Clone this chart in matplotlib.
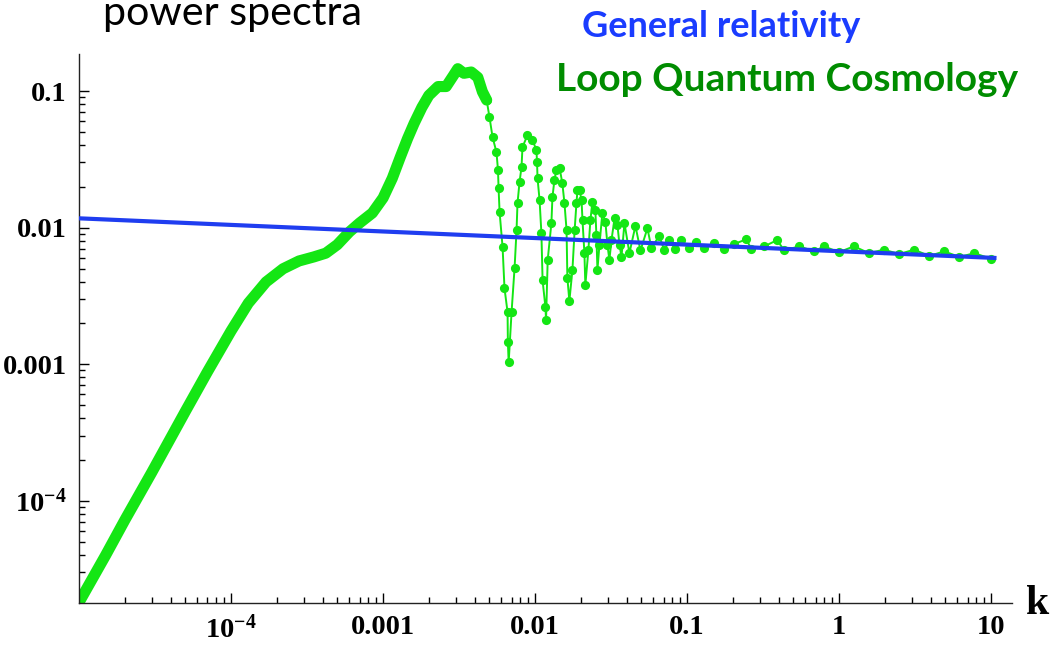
import matplotlib
matplotlib.use("Agg")
import matplotlib.pyplot as plt
from matplotlib.ticker import LogLocator, NullFormatter

# General relativity spectrum (straight line in log-log)
k_gr = [1e-5, 10.5]
p_gr = [0.0117, 0.0060]

# LQC spectrum, dense part (reads as a thick line)
k_lqc_smooth = [1.0e-5, 1.5e-5, 2.0e-5, 3.0e-5, 5.0e-5, 7.0e-5, 1.0e-4, 1.3e-4,
                1.7e-4, 2.2e-4, 2.8e-4, 3.5e-4, 4.2e-4, 5.0e-4, 6.0e-4, 7.0e-4,
                8.5e-4, 1.0e-3, 1.15e-3, 1.3e-3, 1.45e-3, 1.6e-3, 1.8e-3, 2.0e-3,
                2.3e-3, 2.6e-3, 2.9e-3, 3.1e-3, 3.4e-3, 3.8e-3, 4.2e-3, 4.5e-3, 4.8e-3]
p_lqc_smooth = [1.8e-5, 4.0e-5, 7.2e-5, 1.6e-4, 4.5e-4, 8.8e-4, 1.75e-3, 2.8e-3,
                4.0e-3, 5.0e-3, 5.7e-3, 6.1e-3, 6.5e-3, 7.5e-3, 9.3e-3, 1.08e-2,
                1.28e-2, 1.65e-2, 2.3e-2, 3.3e-2, 4.5e-2, 5.8e-2, 7.6e-2, 9.3e-2,
                0.108, 0.108, 0.130, 0.146, 0.135, 0.138, 0.126, 0.099, 0.086]

# LQC spectrum, oscillating part (separate dots)
k_lqc_osc = [0.0048, 0.00501, 0.00525, 0.00557, 0.0057, 0.00575, 0.00584, 0.00611,
             0.00629, 0.00659, 0.00662, 0.0067, 0.0070, 0.00733, 0.00755, 0.00766,
             0.0079, 0.00814, 0.00826, 0.00891, 0.00961, 0.0102, 0.0103, 0.01037,
             0.0107, 0.0110, 0.0112, 0.0117, 0.0118, 0.0121, 0.0128, 0.0130,
             0.0134, 0.0138, 0.0145, 0.0151, 0.0156, 0.0161, 0.0163, 0.0168,
             0.0176, 0.0182, 0.0187, 0.0190, 0.0196, 0.0202, 0.0205, 0.0211,
             0.0214, 0.0224, 0.0231, 0.0238, 0.0249, 0.0253, 0.0257, 0.0265,
             0.0277, 0.0290, 0.0299, 0.0308, 0.0318, 0.0333, 0.0348, 0.0359,
             0.0370, 0.0387, 0.0417, 0.0457, 0.0493, 0.0548, 0.0582, 0.0656,
             0.0708, 0.0764, 0.0836, 0.0916, 0.103, 0.114, 0.129, 0.150,
             0.176, 0.204, 0.245, 0.264, 0.322, 0.391, 0.435, 0.546,
             0.685, 0.795, 0.995, 1.25, 1.57, 1.97, 2.48, 3.11,
             3.91, 4.91, 6.17, 7.75, 10.0]
p_lqc_osc = [0.086, 0.0645, 0.0460, 0.0357, 0.0264, 0.0195, 0.0130, 0.0072,
             0.0036, 0.0024, 0.00145, 0.00103, 0.0024, 0.0051, 0.0096, 0.0151,
             0.0216, 0.0278, 0.0389, 0.0476, 0.0438, 0.0370, 0.0302, 0.0231,
             0.0159, 0.0091, 0.0041, 0.0026, 0.0021, 0.0058, 0.0108, 0.0167,
             0.0223, 0.0264, 0.0272, 0.0212, 0.0151, 0.0096, 0.0043, 0.0029,
             0.0049, 0.0096, 0.0151, 0.0188, 0.0188, 0.0159, 0.0113, 0.0065,
             0.0038, 0.0068, 0.0113, 0.0154, 0.0134, 0.0088, 0.0049, 0.0075,
             0.0128, 0.0110, 0.0075, 0.0058, 0.0081, 0.0117, 0.0104, 0.0075,
             0.0061, 0.0108, 0.0065, 0.0103, 0.0068, 0.0099, 0.0071, 0.0087,
             0.0068, 0.0081, 0.0070, 0.0081, 0.0071, 0.0078, 0.0071, 0.0077,
             0.0070, 0.0076, 0.0082, 0.0070, 0.0073, 0.0081, 0.0068, 0.0073,
             0.0067, 0.0073, 0.0066, 0.0073, 0.0065, 0.0069, 0.0064, 0.0069,
             0.0062, 0.0067, 0.0061, 0.0065, 0.0059]

x_ticks = [1e-4, 1e-3, 1e-2, 1e-1, 1, 10]
x_labels = [r"$10^{-4}$", "0.001", "0.01", "0.1", "1", "10"]
y_ticks = [1e-4, 1e-3, 1e-2, 1e-1]
y_labels = [r"$10^{-4}$", "0.001", "0.01", "0.1"]

plt.rcParams["font.family"] = ["Liberation Serif", "DejaVu Serif"]
plt.rcParams["font.weight"] = "bold"
plt.rcParams["mathtext.default"] = "regular"

GREEN = "#14e614"
BLUE = "#1f3df0"

W, H = 1053, 645
fig = plt.figure(figsize=(W / 100, H / 100), dpi=100)
ax = fig.add_axes([79 / W, 42 / H, (1012 - 79) / W, (603 - 54) / H])

ax.plot(k_lqc_smooth, p_lqc_smooth, color=GREEN, lw=8,
        solid_capstyle="round", solid_joinstyle="round", zorder=2)
ax.plot(k_lqc_osc, p_lqc_osc, color=GREEN, lw=1.4, marker="o", ms=6.6,
        markeredgewidth=0, zorder=2)
ax.plot(k_gr, p_gr, color=BLUE, lw=3, zorder=3)

ax.set_xscale("log")
ax.set_yscale("log")
ax.set_xlim(1e-5, 13.7)
ax.set_ylim(1.78e-5, 0.187)

ax.set_xticks(x_ticks)
ax.set_xticklabels(x_labels)
ax.set_yticks(y_ticks)
ax.set_yticklabels(y_labels)
ax.xaxis.set_minor_locator(LogLocator(base=10, subs=range(2, 10), numticks=20))
ax.yaxis.set_minor_locator(LogLocator(base=10, subs=range(2, 10), numticks=20))
ax.xaxis.set_minor_formatter(NullFormatter())
ax.yaxis.set_minor_formatter(NullFormatter())

ax.tick_params(which="major", direction="in", length=7, width=1, labelsize=20.5,
               pad=9, top=False, right=False)
ax.tick_params(which="minor", direction="in", length=4, width=1,
               top=False, right=False)

for side in ["top", "right"]:
    ax.spines[side].set_visible(False)
for side in ["left", "bottom"]:
    ax.spines[side].set_linewidth(1.0)
    ax.spines[side].set_color("#222222")

# axis name at the end of the k axis
fig.text(1038 / W, 1 - 604 / H, "k", ha="center", va="center", fontsize=30,
         family="Liberation Serif", weight="bold")

fig.text(103 / W, 1 - 25 / H, "power spectra", ha="left", va="baseline",
         fontsize=29.7, family="Lato", weight="normal", color="black")
fig.text(582 / W, 1 - 37 / H, "General relativity", ha="left", va="baseline",
         fontsize=26, family="Lato", weight="bold", color="#1a3cff")
fig.text(556 / W, 1 - 91 / H, "Loop Quantum Cosmology", ha="left", va="baseline",
         fontsize=28, family="Lato", weight="bold", color="#008c00")

fig.savefig("out.png", dpi=100)
